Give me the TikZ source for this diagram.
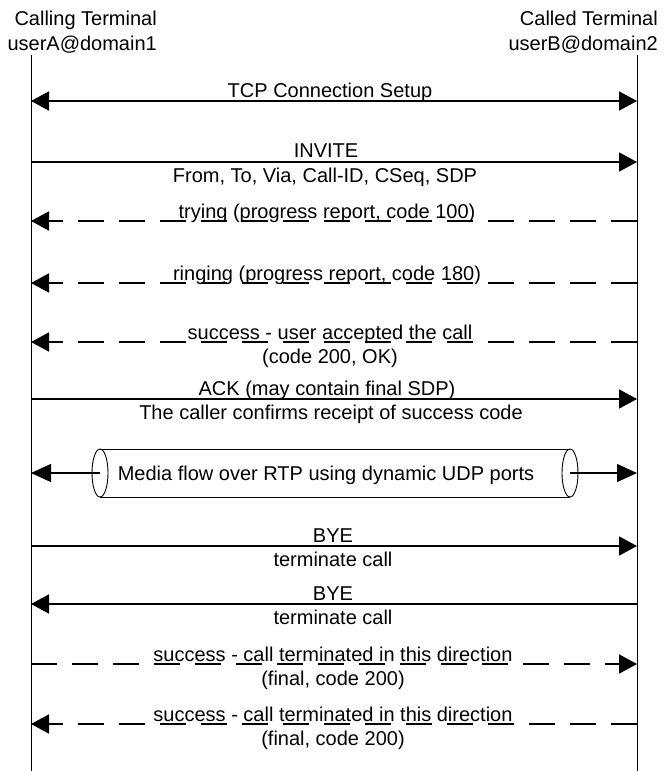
\documentclass[tikz,border=0pt]{standalone}
\usepackage{fontspec}
\setmainfont{Liberation Sans}
\usetikzlibrary{arrows.meta}
\begin{document}
\begin{tikzpicture}[x=1pt,y=-1pt,
  txt/.style={anchor=base, inner sep=0pt, font=\fontsize{20}{24}\selectfont},
  head/.style={txt, anchor=base east},
  lifeline/.style={line width=1pt},
  msg/.style={line width=1.8pt, -{Triangle[length=18pt,width=19pt]}},
  twoway/.style={line width=1.8pt, {Triangle[length=18pt,width=19pt]}-{Triangle[length=18pt,width=19pt]}},
  reply/.style={msg, dash pattern=on 26pt off 15pt},
  media/.style={line width=1.2pt, -{Triangle[length=20pt,width=18pt]}},
  pipe/.style={line width=0.9pt}]
\useasboundingbox (0,0) rectangle (665,771);

% participants
\node[head] (callerName) at (157,25.7) {Calling Terminal};
\node[head] (callerAddr) at (157,50) {userA@domain1};
\node[head] (calleeName) at (658,25.7) {Called Terminal};
\node[head] (calleeAddr) at (658,50) {userB@domain2};

% lifelines
\coordinate (Atop) at (31,55);
\coordinate (Abot) at (31,771);
\coordinate (Btop) at (637,55);
\coordinate (Bbot) at (637,771);
\draw[lifeline] (Atop) -- (Abot);
\draw[lifeline] (Btop) -- (Bbot);

% message rows
\foreach \n/\y in {1/101, 2/162, 3/221, 4/283, 5/342, 6/399, 7/473, 8/546, 9/604, 10/664, 11/724} {
  \coordinate (A\n) at (31,\y);
  \coordinate (B\n) at (637,\y);
}

% TCP setup
\draw[twoway] (A1) -- (B1);
\node[txt] (tcp) at (330,97) {TCP Connection Setup};

% INVITE
\draw[msg] (A2) -- (B2);
\node[txt] (invite) at (326,157) {INVITE};
\node[txt] (inviteHdr) at (325,182) {From, To, Via, Call-ID, CSeq, SDP};

% provisional responses
\draw[reply] (B3) -- (A3);
\node[txt] (trying) at (327,218) {trying (progress report, code 100)};
\draw[reply] (B4) -- (A4);
\node[txt] (ringing) at (327,280) {ringing (progress report, code 180)};

% final response
\draw[reply] (B5) -- (A5);
\node[txt] (ok) at (330,339) {success - user accepted the call};
\node[txt] (okCode) at (330,363) {(code 200, OK)};

% ACK
\draw[msg] (A6) -- (B6);
\node[txt] (ack) at (327,395) {ACK (may contain final SDP)};
\node[txt] (ackNote) at (331,419) {The caller confirms receipt of success code};

% media pipe
\coordinate (pipeL) at (100,473);
\coordinate (pipeR) at (570,473);
\draw[pipe] (100,449) -- (570,449);
\draw[pipe] (100,497) -- (570,497);
\draw[pipe] (pipeL) ellipse [x radius=8, y radius=24];
\draw[pipe] (pipeR) ellipse [x radius=8, y radius=24];
\draw[media] (pipeL) -- (A7);
\draw[media] (pipeR) -- (B7);
\node[txt] (rtp) at (326,480) {Media flow over RTP using dynamic UDP ports};

% BYE from caller
\draw[msg] (A8) -- (B8);
\node[txt] (byeA) at (333,542) {BYE};
\node[txt] (byeANote) at (333,566) {terminate call};

% BYE from callee
\draw[msg] (B9) -- (A9);
\node[txt] (byeB) at (333,600) {BYE};
\node[txt] (byeBNote) at (333,624) {terminate call};

% final responses to BYE
\draw[reply] (A10) -- (B10);
\node[txt] (endA) at (333,661) {success - call terminated in this direction};
\node[txt] (endACode) at (333,685) {(final, code 200)};
\draw[reply] (B11) -- (A11);
\node[txt] (endB) at (333,721) {success - call terminated in this direction};
\node[txt] (endBCode) at (333,745) {(final, code 200)};
\end{tikzpicture}
\end{document}
